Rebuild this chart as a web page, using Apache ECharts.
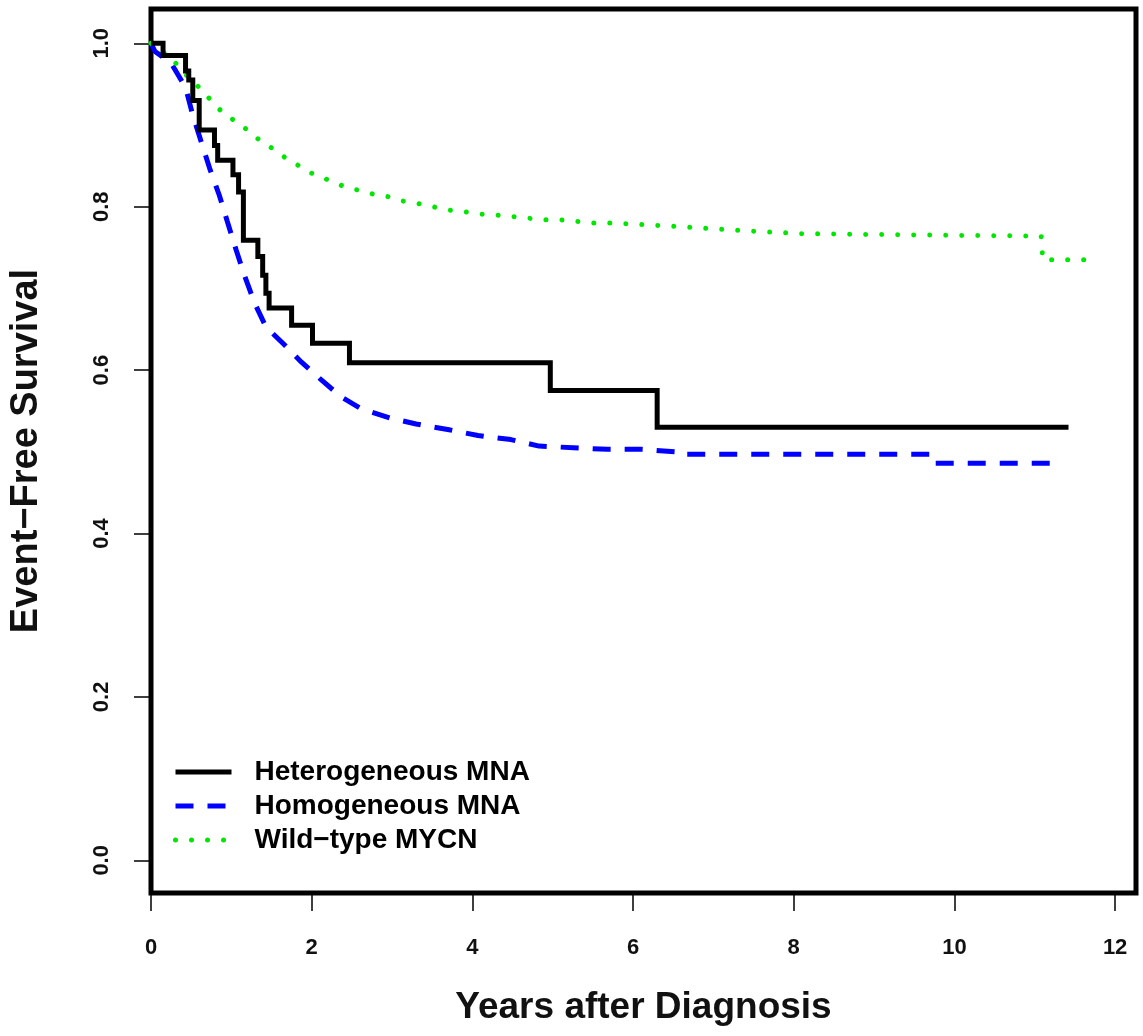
<!DOCTYPE html>
<html>
<head>
<meta charset="utf-8">
<script src="https://cdn.jsdelivr.net/npm/echarts@6/dist/echarts.min.js"></script>
<style>
  html, body { margin: 0; padding: 0; background: #fff; }
  #chart { width: 1143px; height: 1036px; }
</style>
</head>
<body>
<div id="chart"></div>
<script>
// Heterogeneous MNA (Kaplan-Meier steps)
const hetTime = [0, 0.15, 0.43, 0.47, 0.52, 0.60, 0.79, 0.83, 1.02, 1.09, 1.15, 1.33, 1.39, 1.43, 1.47, 1.75, 2.01, 2.47, 4.97, 6.30, 11.42]
const hetSurv = [1.0, 0.985, 0.966, 0.955, 0.93, 0.894, 0.875, 0.857, 0.839, 0.818, 0.759, 0.739, 0.716, 0.694, 0.676, 0.655, 0.633, 0.609, 0.575, 0.530, 0.530]

// Homogeneous MNA
const homTime = [0, 0.05, 0.25, 0.43, 0.52, 0.63, 0.73, 0.85, 0.95, 1.06, 1.17, 1.29, 1.43, 1.66, 1.87, 2.12, 2.37, 2.61, 2.99, 3.30, 3.71, 4.07, 4.48, 4.83, 5.26, 5.68, 6.11, 6.55, 6.57, 9.70, 9.72, 11.35]
const homSurv = [1.0, 0.99, 0.976, 0.946, 0.912, 0.878, 0.847, 0.814, 0.782, 0.747, 0.714, 0.682, 0.653, 0.631, 0.610, 0.588, 0.567, 0.553, 0.541, 0.534, 0.527, 0.520, 0.515, 0.507, 0.505, 0.503, 0.503, 0.500, 0.497, 0.497, 0.486, 0.486]

// Wild-type MYCN
const wtTime = [0, 0.13, 0.25, 0.35, 0.46, 0.57, 0.68, 0.79, 0.90, 1.03, 1.16, 1.28, 1.40, 1.55, 1.67, 1.81, 1.95, 2.10, 2.25, 2.42, 2.59, 2.78, 2.97, 3.13, 3.32, 3.51, 3.69, 3.89, 4.08, 4.28, 4.49, 4.69, 4.89, 5.10, 5.31, 5.51, 5.72, 5.94, 6.5, 7.0, 7.5, 8.1, 9.0, 10.0, 11.08, 11.10, 11.72]
const wtSurv = [1.0, 0.991, 0.982, 0.971, 0.959, 0.949, 0.937, 0.926, 0.914, 0.906, 0.897, 0.887, 0.878, 0.869, 0.860, 0.852, 0.843, 0.837, 0.831, 0.824, 0.820, 0.815, 0.812, 0.807, 0.804, 0.800, 0.796, 0.794, 0.791, 0.790, 0.788, 0.786, 0.784, 0.784, 0.782, 0.780, 0.780, 0.779, 0.776, 0.773, 0.770, 0.767, 0.766, 0.765, 0.764, 0.735, 0.735]

const seriesNames = ['Heterogeneous MNA', 'Homogeneous MNA', 'Wild\u2212type MYCN']
const xTicks = [0, 2, 4, 6, 8, 10, 12]
const yTicks = [0, 0.2, 0.4, 0.6, 0.8, 1.0]

const zip = (xs, ys) => xs.map((x, i) => [x, ys[i]])

const myChart = echarts.init(document.getElementById('chart'))

const option = {
  animation: false,
  backgroundColor: '#fff',
  textStyle: { fontFamily: 'Liberation Sans, Arial, sans-serif' },
  grid: {
    left: 150,
    right: 7,
    top: 9,
    bottom: 143,
    show: true,
    borderColor: '#000',
    borderWidth: 5,
    backgroundColor: 'transparent'
  },
  legend: {
    orient: 'vertical',
    left: 173,
    top: 758,
    padding: 0,
    itemWidth: 56,
    itemHeight: 14,
    itemGap: 6,
    data: seriesNames,
    itemStyle: { opacity: 0 },
    lineStyle: { width: 5 },
    textStyle: {
      fontSize: 28,
      lineHeight: 28,
      fontWeight: 'bold',
      color: '#000',
      padding: [0, 0, 0, 18]
    }
  },
  xAxis: {
    type: 'value',
    min: 0,
    max: 12.26,
    name: 'Years after Diagnosis',
    nameLocation: 'middle',
    nameGap: 96,
    nameTextStyle: { fontSize: 37, fontWeight: 'bold', color: '#111' },
    axisLine: { show: false, onZero: false },
    splitLine: { show: false },
    axisTick: {
      show: true,
      length: 18,
      customValues: xTicks,
      lineStyle: { color: '#000', width: 1.5 }
    },
    axisLabel: {
      customValues: xTicks,
      margin: 44,
      fontSize: 22,
      fontWeight: 'bold',
      color: '#111'
    }
  },
  yAxis: {
    type: 'value',
    min: -0.04,
    max: 1.042,
    name: 'Event\u2212Free Survival',
    nameLocation: 'middle',
    nameGap: 105,
    nameTextStyle: { fontSize: 38, fontWeight: 'bold', color: '#111' },
    axisLine: { show: false, onZero: false },
    splitLine: { show: false },
    axisTick: {
      show: true,
      length: 17,
      customValues: yTicks,
      lineStyle: { color: '#000', width: 1.5 }
    },
    axisLabel: {
      customValues: yTicks,
      rotate: 90,
      margin: 38,
      fontSize: 22,
      fontWeight: 'bold',
      color: '#111',
      formatter: (v) => v.toFixed(1)
    }
  },
  series: [
    {
      name: seriesNames[0],
      type: 'line',
      step: 'end',
      symbol: 'none',
      showSymbol: false,
      lineStyle: { color: '#000', width: 5, join: 'miter' },
      itemStyle: { color: '#000' },
      data: zip(hetTime, hetSurv),
      z: 3
    },
    {
      name: seriesNames[1],
      type: 'line',
      symbol: 'none',
      showSymbol: false,
      lineStyle: { color: '#0000ff', width: 5, type: [18, 14] },
      itemStyle: { color: '#0000ff' },
      data: zip(homTime, homSurv),
      z: 2
    },
    {
      name: seriesNames[2],
      type: 'line',
      symbol: 'none',
      showSymbol: false,
      lineStyle: { color: '#00e600', width: 5, type: [0.01, 16], cap: 'round' },
      itemStyle: { color: '#00e600' },
      data: zip(wtTime, wtSurv),
      z: 2
    }
  ]
}

myChart.setOption(option)
window.addEventListener('resize', () => {
  myChart.resize()
})
</script>
</body>
</html>
